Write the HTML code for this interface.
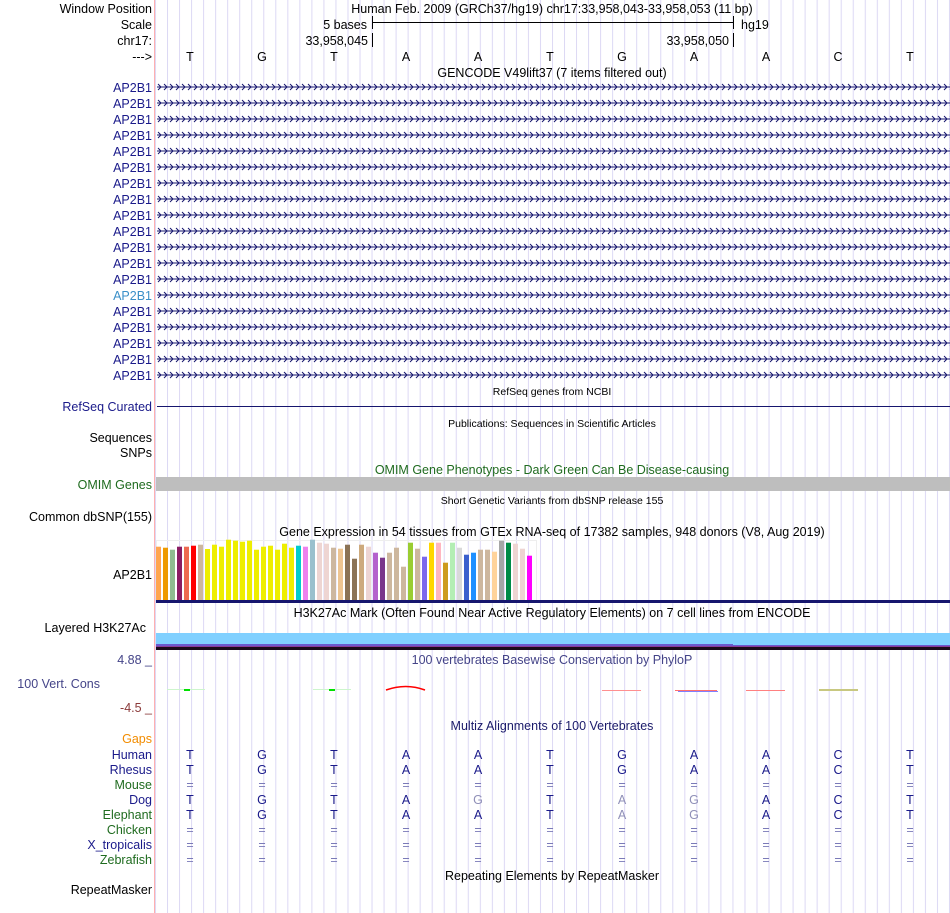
<!DOCTYPE html>
<html><head><meta charset="utf-8"><style>
html,body{margin:0;padding:0;background:#fff;width:950px;height:913px;overflow:hidden}
svg text{font-family:"Liberation Sans",sans-serif;font-size:12.5px}
</style></head><body>
<svg width="950" height="913" xmlns="http://www.w3.org/2000/svg">
<defs>
<pattern id="vl" x="155" y="0" width="12.03" height="913" patternUnits="userSpaceOnUse">
<rect x="0" y="0" width="1" height="913" fill="#dcd8f4"/>
</pattern>
<pattern id="arr" x="157" y="-10" width="6" height="20" patternUnits="userSpaceOnUse">
<path d="M1,7 L4,10 L1,13" fill="none" stroke="#16166e" stroke-width="1"/>
</pattern>
<g id="gene"><rect x="157" y="-0.5" width="793" height="1" fill="#16166e"/><rect x="157" y="-4" width="793" height="8" fill="url(#arr)"/></g>
</defs>
<rect x="155" y="0" width="795" height="913" fill="url(#vl)"/>
<rect x="154" y="0" width="1" height="913" fill="#ffb0b0"/>

<!-- header -->
<g fill="#000" text-anchor="end">
<text x="152" y="13">Window Position</text>
<text x="152" y="29">Scale</text>
<text x="152" y="45">chr17:</text>
<text x="152" y="61">---&gt;</text>
<text x="367" y="29">5 bases</text>
<text x="368" y="45">33,958,045</text>
<text x="729" y="45">33,958,050</text>
</g>
<text x="552" y="13" text-anchor="middle">Human Feb. 2009 (GRCh37/hg19)   chr17:33,958,043-33,958,053 (11 bp)</text>
<rect x="372" y="22" width="361" height="1" fill="#000"/>
<rect x="372" y="16" width="1" height="13" fill="#000"/><rect x="733" y="16" width="1" height="13" fill="#000"/>
<rect x="372" y="33" width="1" height="14" fill="#000"/><rect x="733" y="33" width="1" height="14" fill="#000"/>
<text x="741" y="29">hg19</text>
<g text-anchor="middle">
<text x="190" y="61">T</text><text x="262" y="61">G</text><text x="334" y="61">T</text><text x="406" y="61">A</text><text x="478" y="61">A</text><text x="550" y="61">T</text><text x="622" y="61">G</text><text x="694" y="61">A</text><text x="766" y="61">A</text><text x="838" y="61">C</text><text x="910" y="61">T</text>
<text x="552" y="77">GENCODE V49lift37 (7 items filtered out)</text>
</g>

<!-- genes -->
<g fill="#1a1a8a" text-anchor="end">
<text x="152" y="92">AP2B1</text><text x="152" y="108">AP2B1</text><text x="152" y="124">AP2B1</text><text x="152" y="140">AP2B1</text><text x="152" y="156">AP2B1</text><text x="152" y="172">AP2B1</text><text x="152" y="188">AP2B1</text><text x="152" y="204">AP2B1</text><text x="152" y="220">AP2B1</text><text x="152" y="236">AP2B1</text><text x="152" y="252">AP2B1</text><text x="152" y="268">AP2B1</text><text x="152" y="284">AP2B1</text><text x="152" y="300" fill="#3a8fc8">AP2B1</text><text x="152" y="316">AP2B1</text><text x="152" y="332">AP2B1</text><text x="152" y="348">AP2B1</text><text x="152" y="364">AP2B1</text><text x="152" y="380">AP2B1</text>
</g>
<use href="#gene" y="87"/><use href="#gene" y="103"/><use href="#gene" y="119"/><use href="#gene" y="135"/><use href="#gene" y="151"/><use href="#gene" y="167"/><use href="#gene" y="183"/><use href="#gene" y="199"/><use href="#gene" y="215"/><use href="#gene" y="231"/><use href="#gene" y="247"/><use href="#gene" y="263"/><use href="#gene" y="279"/><use href="#gene" y="295"/><use href="#gene" y="311"/><use href="#gene" y="327"/><use href="#gene" y="343"/><use href="#gene" y="359"/><use href="#gene" y="375"/>

<text x="552" y="395" text-anchor="middle" font-size="10.5" style="font-size:10.5px">RefSeq genes from NCBI</text>
<text x="152" y="411" text-anchor="end" fill="#1a1a8a">RefSeq Curated</text>
<rect x="157" y="406" width="793" height="1" fill="#16166e"/>
<text x="552" y="427" text-anchor="middle" style="font-size:10.5px">Publications: Sequences in Scientific Articles</text>
<text x="152" y="442" text-anchor="end">Sequences</text>
<text x="152" y="457" text-anchor="end">SNPs</text>
<text x="552" y="474" text-anchor="middle" fill="#1f6b1f">OMIM Gene Phenotypes - Dark Green Can Be Disease-causing</text>
<rect x="156" y="477" width="794" height="14" fill="#bebebe"/>
<text x="152" y="489" text-anchor="end" fill="#1f6b1f">OMIM Genes</text>
<text x="552" y="504" text-anchor="middle" style="font-size:10.5px">Short Genetic Variants from dbSNP release 155</text>
<text x="152" y="521" text-anchor="end">Common dbSNP(155)</text>
<text x="552" y="536" text-anchor="middle">Gene Expression in 54 tissues from GTEx RNA-seq of 17382 samples, 948 donors (V8, Aug 2019)</text>
<text x="152" y="579" text-anchor="end">AP2B1</text>
<rect x="156.5" y="540.5" width="380" height="60" fill="none" stroke="#eeeeee"/>
<g id="bars"></g>
<rect x="156" y="600" width="794" height="3" fill="#16166e"/>

<text x="552" y="617" text-anchor="middle">H3K27Ac Mark (Often Found Near Active Regulatory Elements) on 7 cell lines from ENCODE</text>
<text x="146" y="632" text-anchor="end">Layered H3K27Ac</text>
<rect x="156" y="633" width="794" height="12" fill="#80d0ff"/>
<rect x="156" y="644" width="577" height="2" fill="#6a5acd"/>
<rect x="733" y="644" width="217" height="1" fill="#80d0ff"/>
<rect x="733" y="645" width="217" height="1" fill="#6a5acd"/>
<rect x="156" y="646" width="794" height="1" fill="#8a3a9a"/>
<rect x="156" y="647" width="794" height="3" fill="#1a0a1a"/>

<text x="152" y="664" text-anchor="end" fill="#444488">4.88 _</text>
<text x="100" y="688" text-anchor="end" fill="#444488">100 Vert. Cons</text>
<text x="152" y="712" text-anchor="end" fill="#8b3a3a">-4.5 _</text>
<text x="552" y="664" text-anchor="middle" fill="#444488">100 vertebrates Basewise Conservation by PhyloP</text>
<g>
<rect x="167" y="689" width="38" height="1" fill="#cdf5cd"/><rect x="184" y="689" width="6" height="2" fill="#00e000"/>
<rect x="313" y="689" width="38" height="1" fill="#cdf5cd"/><rect x="329" y="689" width="6" height="2" fill="#00e000"/>
<path d="M386,690 Q406,683 425,690" stroke="#ff0000" stroke-width="1.6" fill="none"/>
<rect x="602" y="690" width="39" height="1" fill="#ff9090"/>
<rect x="675" y="690" width="42" height="1" fill="#ff7070"/><rect x="678" y="691" width="40" height="1" fill="#8080ff"/>
<rect x="746" y="690" width="39" height="1" fill="#ff8080"/>
<rect x="819" y="689" width="39" height="2" fill="#c8c880"/>
</g>
<text x="552" y="730" text-anchor="middle" fill="#1a1a6a">Multiz Alignments of 100 Vertebrates</text>

<g text-anchor="end">
<text x="152" y="743" fill="#f28c00">Gaps</text>
<text x="152" y="759" fill="#1a1a8a">Human</text>
<text x="152" y="774" fill="#1a1a8a">Rhesus</text>
<text x="152" y="789" fill="#1f6b1f">Mouse</text>
<text x="152" y="804" fill="#1a1a8a">Dog</text>
<text x="152" y="819" fill="#1f6b1f">Elephant</text>
<text x="152" y="834" fill="#1f6b1f">Chicken</text>
<text x="152" y="849" fill="#1a1a8a">X_tropicalis</text>
<text x="152" y="864" fill="#1f6b1f">Zebrafish</text>
</g>
<g text-anchor="middle" fill="#1a1a8a">
<text x="190" y="759">T</text><text x="262" y="759">G</text><text x="334" y="759">T</text><text x="406" y="759">A</text><text x="478" y="759">A</text><text x="550" y="759">T</text><text x="622" y="759">G</text><text x="694" y="759">A</text><text x="766" y="759">A</text><text x="838" y="759">C</text><text x="910" y="759">T</text>
<text x="190" y="774">T</text><text x="262" y="774">G</text><text x="334" y="774">T</text><text x="406" y="774">A</text><text x="478" y="774">A</text><text x="550" y="774">T</text><text x="622" y="774">G</text><text x="694" y="774">A</text><text x="766" y="774">A</text><text x="838" y="774">C</text><text x="910" y="774">T</text>
<text x="190" y="804">T</text><text x="262" y="804">G</text><text x="334" y="804">T</text><text x="406" y="804">A</text><text x="478" y="804" fill="#9090b8">G</text><text x="550" y="804">T</text><text x="622" y="804" fill="#9090b8">A</text><text x="694" y="804" fill="#9090b8">G</text><text x="766" y="804">A</text><text x="838" y="804">C</text><text x="910" y="804">T</text>
<text x="190" y="819">T</text><text x="262" y="819">G</text><text x="334" y="819">T</text><text x="406" y="819">A</text><text x="478" y="819">A</text><text x="550" y="819">T</text><text x="622" y="819" fill="#9090b8">A</text><text x="694" y="819" fill="#9090b8">G</text><text x="766" y="819">A</text><text x="838" y="819">C</text><text x="910" y="819">T</text>
</g>
<g text-anchor="middle" fill="#7a7ab8">
<text x="190" y="789">=</text><text x="262" y="789">=</text><text x="334" y="789">=</text><text x="406" y="789">=</text><text x="478" y="789">=</text><text x="550" y="789">=</text><text x="622" y="789">=</text><text x="694" y="789">=</text><text x="766" y="789">=</text><text x="838" y="789">=</text><text x="910" y="789">=</text>
<text x="190" y="834">=</text><text x="262" y="834">=</text><text x="334" y="834">=</text><text x="406" y="834">=</text><text x="478" y="834">=</text><text x="550" y="834">=</text><text x="622" y="834">=</text><text x="694" y="834">=</text><text x="766" y="834">=</text><text x="838" y="834">=</text><text x="910" y="834">=</text>
<text x="190" y="849">=</text><text x="262" y="849">=</text><text x="334" y="849">=</text><text x="406" y="849">=</text><text x="478" y="849">=</text><text x="550" y="849">=</text><text x="622" y="849">=</text><text x="694" y="849">=</text><text x="766" y="849">=</text><text x="838" y="849">=</text><text x="910" y="849">=</text>
<text x="190" y="864">=</text><text x="262" y="864">=</text><text x="334" y="864">=</text><text x="406" y="864">=</text><text x="478" y="864">=</text><text x="550" y="864">=</text><text x="622" y="864">=</text><text x="694" y="864">=</text><text x="766" y="864">=</text><text x="838" y="864">=</text><text x="910" y="864">=</text>
</g>
<text x="552" y="880" text-anchor="middle">Repeating Elements by RepeatMasker</text>
<text x="152" y="894" text-anchor="end">RepeatMasker</text>

<!-- GTEx bars -->
<g>
<rect x="156" y="546.7" width="5" height="53.3" fill="#ffa54f"/>
<rect x="163" y="547.7" width="5" height="52.3" fill="#ee9a00"/>
<rect x="170" y="549.7" width="5" height="50.3" fill="#8fbc8f"/>
<rect x="177" y="546.7" width="5" height="53.3" fill="#8b1c62"/>
<rect x="184" y="546.7" width="5" height="53.3" fill="#ee6a50"/>
<rect x="191" y="545.7" width="5" height="54.3" fill="#ff0000"/>
<rect x="198" y="544.7" width="5" height="55.3" fill="#cdb79e"/>
<rect x="205" y="549" width="5" height="51" fill="#eeee00"/>
<rect x="212" y="544.7" width="5" height="55.3" fill="#eeee00"/>
<rect x="219" y="546.7" width="5" height="53.3" fill="#eeee00"/>
<rect x="226" y="539.7" width="5" height="60.3" fill="#eeee00"/>
<rect x="233" y="540.7" width="5" height="59.3" fill="#eeee00"/>
<rect x="240" y="541.7" width="5" height="58.3" fill="#eeee00"/>
<rect x="247" y="540.7" width="5" height="59.3" fill="#eeee00"/>
<rect x="254" y="549.7" width="5" height="50.3" fill="#eeee00"/>
<rect x="261" y="546.7" width="5" height="53.3" fill="#eeee00"/>
<rect x="268" y="545.7" width="5" height="54.3" fill="#eeee00"/>
<rect x="275" y="549.7" width="5" height="50.3" fill="#eeee00"/>
<rect x="282" y="543.7" width="5" height="56.3" fill="#eeee00"/>
<rect x="289" y="547.7" width="5" height="52.3" fill="#eeee00"/>
<rect x="296" y="545.7" width="5" height="54.3" fill="#00cdcd"/>
<rect x="303" y="546.7" width="5" height="53.3" fill="#ee82ee"/>
<rect x="310" y="539.7" width="5" height="60.3" fill="#9ac0cd"/>
<rect x="317" y="542.7" width="5" height="57.3" fill="#eed5d2"/>
<rect x="324" y="543.7" width="5" height="56.3" fill="#eed5d2"/>
<rect x="331" y="547.7" width="5" height="52.3" fill="#cdb79e"/>
<rect x="338" y="548.7" width="5" height="51.3" fill="#eec591"/>
<rect x="345" y="544.7" width="5" height="55.3" fill="#8b7355"/>
<rect x="352" y="558.7" width="5" height="41.3" fill="#8b7355"/>
<rect x="359" y="544.7" width="5" height="55.3" fill="#cdaa7d"/>
<rect x="366" y="546.7" width="5" height="53.3" fill="#eed5d2"/>
<rect x="373" y="552.7" width="5" height="47.3" fill="#b460cd"/>
<rect x="380" y="557.7" width="5" height="42.3" fill="#7a378b"/>
<rect x="387" y="552.7" width="5" height="47.3" fill="#cdb79e"/>
<rect x="394" y="547.7" width="5" height="52.3" fill="#cdb79e"/>
<rect x="401" y="566.7" width="5" height="33.3" fill="#cdb79e"/>
<rect x="408" y="542.7" width="5" height="57.3" fill="#9acd32"/>
<rect x="415" y="548.7" width="5" height="51.3" fill="#cdb79e"/>
<rect x="422" y="556.7" width="5" height="43.3" fill="#7b68ee"/>
<rect x="429" y="542.7" width="5" height="57.3" fill="#ffd700"/>
<rect x="436" y="542.7" width="5" height="57.3" fill="#ffb6c1"/>
<rect x="443" y="562.7" width="5" height="37.3" fill="#cd9b1d"/>
<rect x="450" y="542.7" width="5" height="57.3" fill="#b4eeb4"/>
<rect x="457" y="547.7" width="5" height="52.3" fill="#d9d9d9"/>
<rect x="464" y="554.7" width="5" height="45.3" fill="#3a5fcd"/>
<rect x="471" y="552.7" width="5" height="47.3" fill="#1e90ff"/>
<rect x="478" y="549.7" width="5" height="50.3" fill="#cdb79e"/>
<rect x="485" y="549.7" width="5" height="50.3" fill="#cdb79e"/>
<rect x="492" y="551.7" width="5" height="48.3" fill="#ffd39b"/>
<rect x="499" y="540.7" width="5" height="59.3" fill="#a6a6a6"/>
<rect x="506" y="542.7" width="5" height="57.3" fill="#008b45"/>
<rect x="513" y="543.7" width="5" height="56.3" fill="#eed5d2"/>
<rect x="520" y="548.7" width="5" height="51.3" fill="#eed5d2"/>
<rect x="527" y="555.7" width="5" height="44.3" fill="#ff00ff"/>
</g>
</svg>
</body></html>
